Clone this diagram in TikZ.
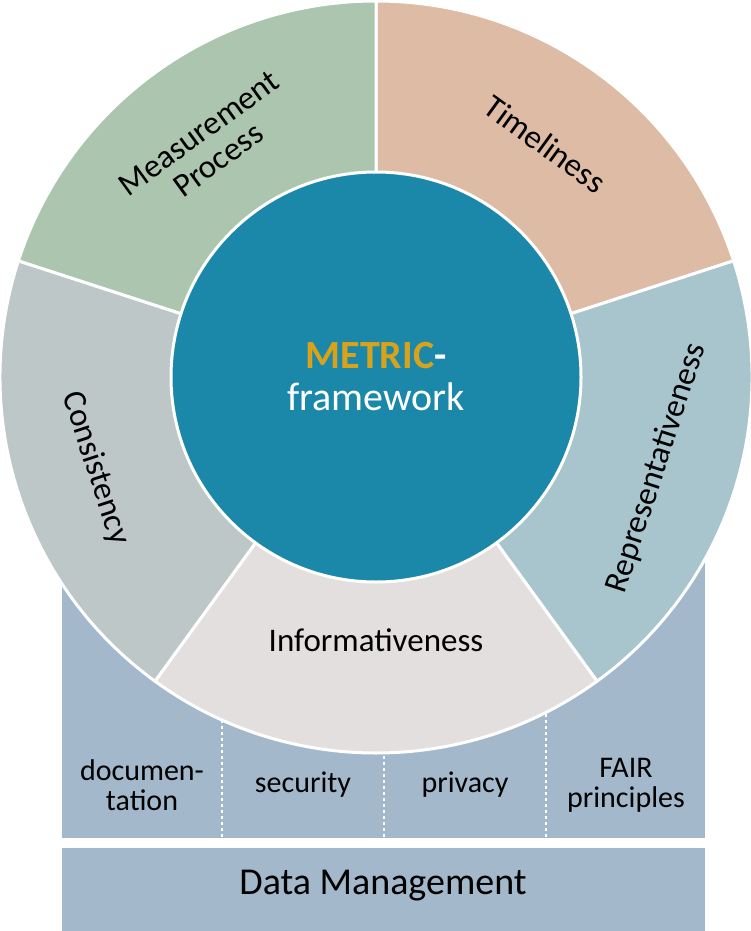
\documentclass[tikz,border=0pt]{standalone}
\usepackage{fontspec}
\setmainfont{Carlito}
\usetikzlibrary{calc}
\definecolor{measure}{HTML}{ABC5AF}
\definecolor{timely}{HTML}{DDBBA5}
\definecolor{repres}{HTML}{A8C4CC}
\definecolor{inform}{HTML}{E3DFDF}
\definecolor{consist}{HTML}{BDC7C7}
\definecolor{core}{HTML}{1C88A9}
\definecolor{gold}{HTML}{D9A21B}
\definecolor{manage}{HTML}{A3B8CB}
\tikzset{
	sector/.style={draw=white, line width=3pt},
	seglabel/.style={font=\fontsize{33}{33}\selectfont, align=center},
	boxlabel/.style={font=\fontsize{30}{30}\selectfont, align=center},
}
\begin{document}
\begin{tikzpicture}[x=1pt, y=-1pt]
	\useasboundingbox (0,0) rectangle (751,931);
	% data management background
	\fill[manage] (62,555) rectangle (705,838);
	\fill[manage] (62,848) rectangle (705,931);
	\foreach \xx in {222,384,546}
		\draw[white, dashed, line width=1.5pt] (\xx,600) -- (\xx,838);
	% ring sectors (y axis points down, so angles are negated)
	\coordinate (C) at (376,377);
	\draw[sector, fill=timely] (C) -- ++(-90:376) arc[start angle=-90, end angle=-18, radius=376] -- cycle;
	\draw[sector, fill=repres] (C) -- ++(-18:376) arc[start angle=-18, end angle=54, radius=376] -- cycle;
	\draw[sector, fill=inform] (C) -- ++(54:376) arc[start angle=54, end angle=126, radius=376] -- cycle;
	\draw[sector, fill=consist] (C) -- ++(126:376) arc[start angle=126, end angle=198, radius=376] -- cycle;
	\draw[sector, fill=measure] (C) -- ++(198:376) arc[start angle=198, end angle=270, radius=376] -- cycle;
	\draw[draw=white, line width=3pt, fill=core] (C) circle[radius=205];
	% labels
	\node[align=center, font=\fontsize{40}{42}\selectfont] (core) at (C)
		{\textcolor{gold}{\textbf{METRIC}}\textcolor{white}{\textbf{-}}\\\textcolor{white}{framework}};
	\node[seglabel, rotate=-36] (timeliness) at ($(C)+(-54:288)$) {Timeliness};
	\node[seglabel, rotate=36] (process) at ($(C)+(-126:285)$) {Measurement\\Process};
	\node[seglabel, rotate=72] (represent) at ($(C)+(18:295)$) {Representativeness};
	\node[seglabel, rotate=-72] (consistency) at ($(C)+(162:295)$) {Consistency};
	\node[seglabel] (informative) at ($(C)+(90:263)$) {Informativeness};
	\node[boxlabel] (documentation) at (142,785) {documen-\\tation};
	\node[boxlabel] (security) at (303,785) {security};
	\node[boxlabel] (privacy) at (465,785) {privacy};
	\node[boxlabel] (fair) at (626,785) {FAIR\\principles};
	\node[font=\fontsize{38}{40}\selectfont] (management) at (383,886) {Data Management};
\end{tikzpicture}
\end{document}
